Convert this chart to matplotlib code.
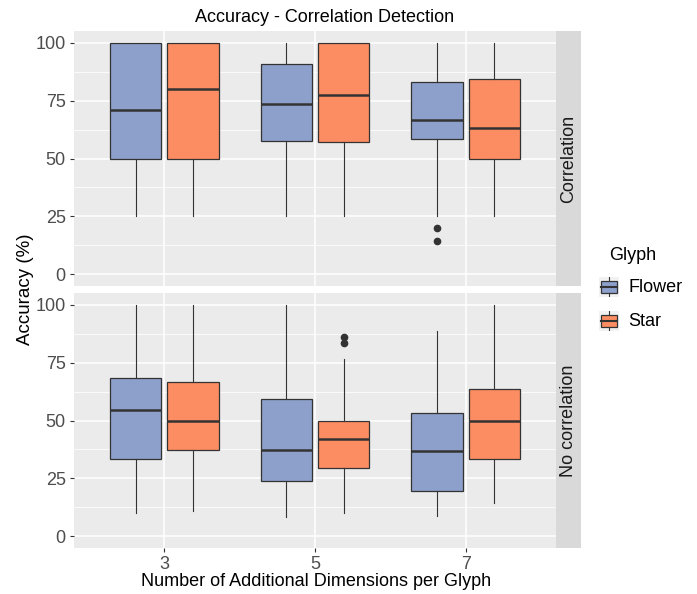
import numpy as np
import matplotlib
matplotlib.use("Agg")
import matplotlib.pyplot as plt
from matplotlib.patches import Rectangle

plt.rcParams['font.family'] = ['Liberation Sans', 'DejaVu Sans']

# data (box stats)
dims = ['3', '5', '7']
glyphs = ['Flower', 'Star']
panels = ['Correlation', 'No correlation']
colors = {'Flower': '#8DA0CB', 'Star': '#FC8D62'}

# [panel][glyph] -> per dimension
q1 = {'Correlation': {'Flower': [50, 57.6, 58.6], 'Star': [50, 57.1, 50]},
      'No correlation': {'Flower': [33.3, 24.1, 19.8], 'Star': [37.4, 29.6, 33.3]}}
med = {'Correlation': {'Flower': [70.8, 73.3, 66.7], 'Star': [79.9, 77.3, 63.3]},
       'No correlation': {'Flower': [54.6, 37.4, 36.9], 'Star': [50, 42.2, 50]}}
q3 = {'Correlation': {'Flower': [100, 90.7, 82.9], 'Star': [100, 100, 84.2]},
      'No correlation': {'Flower': [68.2, 59.2, 53.4], 'Star': [66.6, 50, 63.6]}}
wlo = {'Correlation': {'Flower': [25, 25, 25], 'Star': [25, 25, 25]},
       'No correlation': {'Flower': [9.9, 8.2, 9.0], 'Star': [11.0, 10.0, 14.3]}}
whi = {'Correlation': {'Flower': [100, 100, 100], 'Star': [100, 100, 100]},
       'No correlation': {'Flower': [100, 100, 88.7], 'Star': [100, 76.7, 100]}}
outliers = {'Correlation': {'Flower': [[], [], [19.9, 14.3]], 'Star': [[], [], []]},
            'No correlation': {'Flower': [[], [], []], 'Star': [[], [86.0, 83.4], []]}}

W, H = 697, 594
fig = plt.figure(figsize=(W / 100, H / 100), dpi=100)

def fx(px):
    return px / W

def fy(py):
    return 1 - py / H

edge = '#333333'
panel_px = [(31, 286), (293, 548)]
axes = []
for i, p in enumerate(panels):
    top, bot = panel_px[i]
    ax = fig.add_axes([fx(74), fy(bot), fx(556) - fx(74), fy(top) - fy(bot)])
    ax.set_facecolor('#EBEBEB')
    for s in ax.spines.values():
        s.set_visible(False)

    for g, off in zip(glyphs, [-0.19, 0.19]):
        stats = []
        for k in range(len(dims)):
            stats.append(dict(med=med[p][g][k], q1=q1[p][g][k], q3=q3[p][g][k],
                              whislo=wlo[p][g][k], whishi=whi[p][g][k],
                              fliers=outliers[p][g][k]))
        pos = np.arange(1, len(dims) + 1) + off
        ax.bxp(stats, positions=pos, widths=0.34, patch_artist=True,
               showcaps=False, manage_ticks=False,
               boxprops=dict(facecolor=colors[g], edgecolor=edge, lw=0.9),
               medianprops=dict(color=edge, lw=1.8),
               whiskerprops=dict(color=edge, lw=0.8),
               flierprops=dict(marker='o', markersize=4.5, markerfacecolor=edge,
                               markeredgecolor=edge))

    ax.set_xlim(0.4, 3.6)
    ax.set_ylim(-5, 105)
    ax.set_yticks([0, 25, 50, 75, 100])
    ax.set_yticks([12.5, 37.5, 62.5, 87.5], minor=True)
    ax.set_xticks([1, 2, 3])
    ax.grid(which='major', color='white', lw=1.1)
    ax.grid(which='minor', axis='y', color='white', lw=0.55)
    ax.set_axisbelow(True)
    ax.tick_params(axis='both', which='major', length=3, color='#333333',
                   labelsize=13, labelcolor='#4D4D4D', width=0.8, pad=3)
    ax.tick_params(axis='y', which='minor', length=0)
    if i == 0:
        ax.set_xticklabels([])
        ax.tick_params(axis='x', length=0)
    else:
        ax.set_xticklabels(dims)

    # facet strip
    sax = fig.add_axes([fx(556), fy(bot), fx(581) - fx(556), fy(top) - fy(bot)])
    sax.set_facecolor('#D9D9D9')
    sax.set_xticks([])
    sax.set_yticks([])
    for s in sax.spines.values():
        s.set_visible(False)
    sax.text(0.5, 0.5, p, rotation=90, ha='center', va='center',
             fontsize=13, color='#1A1A1A', transform=sax.transAxes)
    axes.append(ax)

fig.text(fx(325), fy(17), 'Accuracy - Correlation Detection', ha='center',
         va='center', fontsize=13)
fig.text(fx(316), fy(582), 'Number of Additional Dimensions per Glyph',
         ha='center', va='center', fontsize=13)
fig.text(fx(26), fy(289), 'Accuracy (%)', rotation=90, ha='center',
         va='center', fontsize=13.5)

# legend
fig.text(fx(609), fy(256), 'Glyph', ha='left', va='center', fontsize=13)
for j, g in enumerate(glyphs):
    cy = 287 + j * 34
    kax = fig.add_axes([fx(599), fy(cy + 10), fx(20), fy(0) - fy(20)])
    kax.set_facecolor('#F2F2F2')
    kax.set_xlim(0, 1)
    kax.set_ylim(0, 1)
    kax.set_xticks([])
    kax.set_yticks([])
    for s in kax.spines.values():
        s.set_visible(False)
    kax.add_patch(Rectangle((0.1, 0.2), 0.8, 0.6, facecolor=colors[g],
                            edgecolor=edge, lw=0.9))
    kax.plot([0.1, 0.9], [0.5, 0.5], color=edge, lw=1.5)
    kax.plot([0.5, 0.5], [0.0, 0.2], color=edge, lw=0.8)
    kax.plot([0.5, 0.5], [0.8, 1.0], color=edge, lw=0.8)
    fig.text(fx(628), fy(cy), g, ha='left', va='center', fontsize=13)

fig.savefig('out.png', dpi=100)
